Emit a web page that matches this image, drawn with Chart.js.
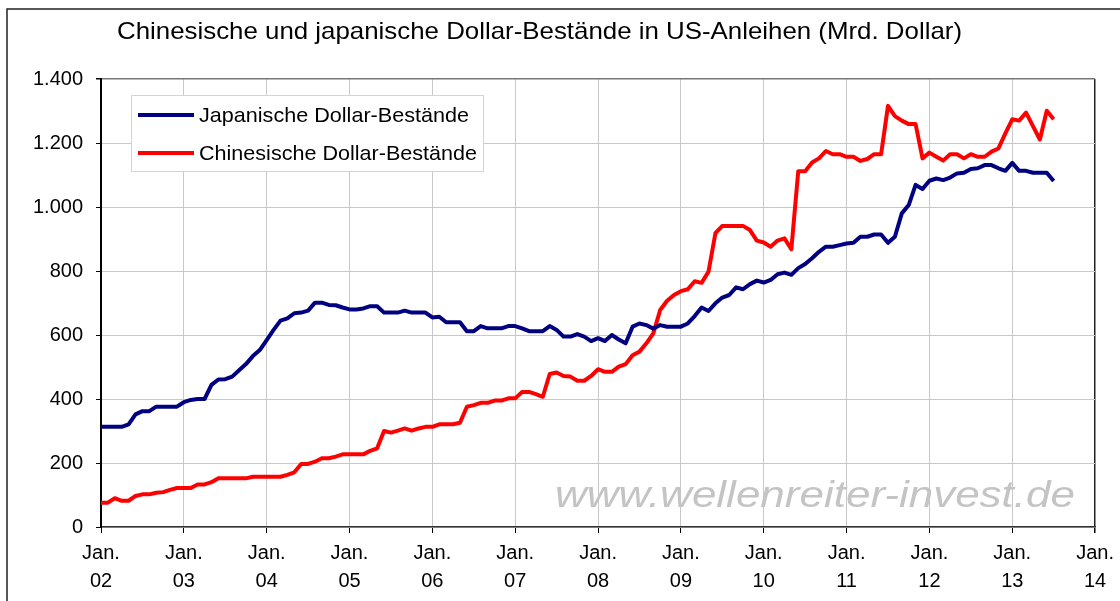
<!DOCTYPE html>
<html>
<head>
<meta charset="utf-8">
<script src="https://cdn.jsdelivr.net/npm/chart.js@4"></script>
<style>
  body { margin: 0; background: #fff; }
  #wrap { width: 1120px; height: 601px; }
</style>
</head>
<body>
<div id="wrap"><canvas id="BondChart" width="1120" height="601"></canvas></div>
<script>
// monthly values, Jan 2002 .. Jul 2013 (Mrd. Dollar)
const japan = [
  313, 313, 313, 313, 321, 352, 362, 362, 376, 376, 376, 376,
  390, 397, 400, 400, 444, 461, 462, 470, 490, 509, 534, 553,
  584, 616, 645, 652, 668, 670, 676, 701, 701, 694, 693, 686,
  680, 680, 683, 690, 690, 670, 670, 670, 676, 670, 670, 670,
  655, 657, 640, 640, 640, 612, 612, 628, 621, 621, 621, 628,
  628, 621, 612, 612, 612, 628, 616, 595, 595, 603, 595, 581,
  590, 581, 600, 586, 574, 626, 636, 631, 620, 631, 626, 626,
  626, 636, 659, 686, 675, 699, 717, 725, 749, 743, 759, 770,
  764, 772, 790, 795, 788, 809, 822, 840, 860, 876, 876, 881,
  886, 888, 907, 907, 914, 914, 888, 907, 980, 1006, 1069, 1056,
  1082, 1089, 1084, 1092, 1105, 1107, 1119, 1121, 1131, 1131, 1121, 1113,
  1138, 1113, 1113, 1107, 1107, 1107, 1081
];
const china = [
  76, 76, 90, 82, 82, 97, 102, 102, 107, 109, 116, 122,
  122, 122, 133, 133, 140, 152, 152, 152, 152, 152, 157, 157,
  157, 157, 157, 163, 171, 197, 197, 204, 215, 215, 220, 227,
  227, 227, 227, 238, 246, 300, 295, 301, 308, 301, 308, 313,
  313, 321, 321, 321, 326, 376, 381, 388, 388, 395, 395, 402,
  402, 422, 422, 415, 407, 478, 483, 472, 470, 457, 457, 472,
  493, 485, 485, 501, 509, 537, 548, 574, 605, 678, 707, 725,
  737, 743, 768, 763, 798, 918, 941, 941, 941, 941, 928, 895,
  889, 876, 895, 902, 868, 1112, 1112, 1139, 1152, 1175, 1165, 1165,
  1157, 1157, 1144, 1150, 1165, 1165, 1316, 1284, 1270, 1259, 1259, 1152,
  1170, 1157, 1145, 1165, 1165, 1152, 1165, 1157, 1157, 1173, 1183, 1230,
  1274, 1270, 1295, 1253, 1211, 1301, 1274
];
const yearLabels = ['02', '03', '04', '05', '06', '07', '08', '09', '10', '11', '12', '13', '14'];
const seriesNames = ['Japanische Dollar-Bestände', 'Chinesische Dollar-Bestände'];
const chartTitle = 'Chinesische und japanische Dollar-Bestände in US-Anleihen (Mrd. Dollar)';
const watermark = 'www.wellenreiter-invest.de';

const FONT = "'Liberation Sans', Arial, sans-serif";
const BLUE = '#000080';
const RED = '#ff0000';

// month index as x value
const toPoints = arr => arr.map((v, i) => ({ x: i, y: v }));

function fmt(v) {
  if (v >= 1000) return Math.floor(v / 1000) + '.' + String(v % 1000).padStart(3, '0');
  return String(v);
}

// text drawn squeezed/stretched to a target width
function fitText(ctx, txt, x, y, w) {
  const m = ctx.measureText(txt).width;
  ctx.save();
  ctx.translate(x, y);
  ctx.scale(w / m, 1);
  ctx.fillText(txt, 0, 0);
  ctx.restore();
}

const decor = {
  id: 'decor',
  beforeDraw(chart) {
    const c = chart.ctx;
    c.save();
    c.fillStyle = '#fff';
    c.fillRect(0, 0, chart.width, chart.height);
    c.restore();
  },
  beforeDatasetsDraw(chart) {
    const c = chart.ctx;
    c.save();
    // watermark
    c.fillStyle = '#c4c4c4';
    c.font = 'italic 37px ' + FONT;
    c.textBaseline = 'alphabetic';
    fitText(c, watermark, 555, 507, 520);
    c.restore();
  },
  afterDraw(chart) {
    const c = chart.ctx;
    c.save();
    // outer frame
    c.strokeStyle = '#222';
    c.lineWidth = 1.5;
    c.strokeRect(7, 9, 1130, 610);

    // title
    c.fillStyle = '#000';
    c.font = '24px ' + FONT;
    c.textBaseline = 'alphabetic';
    fitText(c, chartTitle, 117, 39, 845);

    // legend box
    c.fillStyle = '#fff';
    c.fillRect(131, 95, 352, 76);
    c.strokeStyle = '#d4d4d4';
    c.lineWidth = 1;
    c.strokeRect(131.5, 95.5, 352, 76);
    const colors = [BLUE, RED];
    const ys = [115, 153];
    const widths = [270, 278];
    c.font = '21px ' + FONT;
    c.textBaseline = 'middle';
    seriesNames.forEach((n, i) => {
      c.strokeStyle = colors[i];
      c.lineWidth = 4;
      c.beginPath();
      c.moveTo(138, ys[i]);
      c.lineTo(194, ys[i]);
      c.stroke();
      c.fillStyle = '#000';
      fitText(c, n, 199, ys[i] + 1, widths[i]);
    });
    c.restore();
  }
};

const ctx_bonds = document.getElementById('BondChart').getContext('2d');

const bondChart = new Chart(ctx_bonds, {
  type: 'line',
  data: {
    datasets: [{
      label: seriesNames[0],
      data: toPoints(japan),
      borderColor: BLUE,
      borderWidth: 4,
      pointRadius: 0,
      tension: 0,
      borderJoinStyle: 'round'
    }, {
      label: seriesNames[1],
      data: toPoints(china),
      borderColor: RED,
      borderWidth: 4,
      pointRadius: 0,
      tension: 0,
      borderJoinStyle: 'round'
    }]
  },
  options: {
    responsive: false,
    animation: false,
    layout: { padding: { left: 0, right: 22, top: 79, bottom: 0 } },
    plugins: {
      legend: { display: false },
      tooltip: { enabled: false },
      title: { display: false }
    },
    scales: {
      x: {
        type: 'linear',
        min: 0,
        max: 144,
        afterBuildTicks: axis => {
          axis.ticks = yearLabels.map((y, i) => ({ value: i * 12 }));
        },
        afterFit: axis => { axis.height = 74; },
        grid: {
          color: c => (c.index === yearLabels.length - 1 ? '#222' : '#c8c8c8'),
          lineWidth: c => (c.index === yearLabels.length - 1 ? 1.5 : 1),
          tickColor: '#000',
          tickLength: 6
        },
        border: { color: '#333', width: 1.5 },
        ticks: {
          color: '#000',
          padding: 6,
          maxRotation: 0,
          autoSkip: false,
          font: { family: FONT, size: 20, lineHeight: 1.4 },
          callback: v => ['Jan.', yearLabels[Math.round(v / 12)]]
        }
      },
      y: {
        min: 0,
        max: 1400,
        afterFit: axis => { axis.width = 101; },
        grid: {
          color: c => (c.tick && c.tick.value === 1400 ? '#777' : '#c8c8c8'),
          lineWidth: c => (c.tick && c.tick.value === 1400 ? 1.5 : 1),
          tickColor: '#000',
          tickLength: 5
        },
        border: { color: '#000', width: 2 },
        ticks: {
          stepSize: 200,
          color: '#000',
          padding: 13,
          font: { family: FONT, size: 20 },
          callback: v => fmt(v)
        }
      }
    }
  },
  plugins: [decor]
});
</script>
</body>
</html>
